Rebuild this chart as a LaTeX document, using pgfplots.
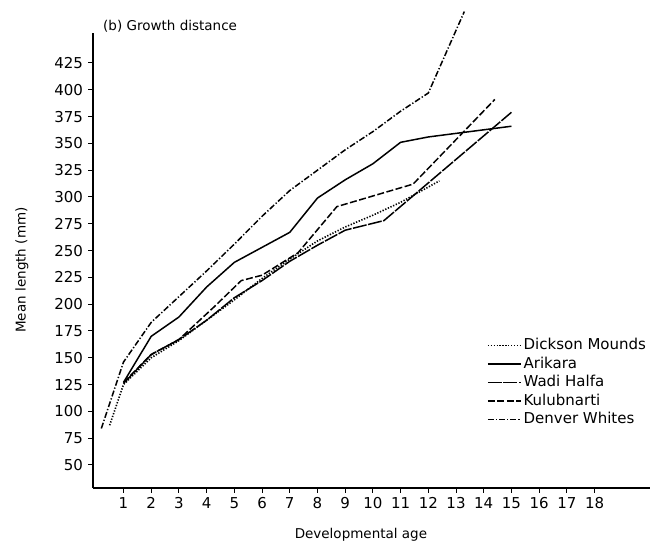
\documentclass[border=0pt]{standalone}
\usepackage{pgfplots}
\pgfplotsset{compat=1.18}
\usepackage{fontspec}
\setmainfont{DejaVu Sans}
\begin{document}
\begin{tikzpicture}[x=1bp,y=1bp]
\path[use as bounding box] (0,0) rectangle (653,550);
\begin{axis}[
  at={(93bp,62bp)}, anchor=south west,
  scale only axis, width=557bp, height=455bp,
  xmin=-0.1, xmax=20, ymin=28.5, ymax=453,
  clip=false,
  axis lines=left,
  axis line style={-, line width=1.6bp, black},
  tick align=outside,
  major tick length=5bp,
  tick style={line width=1bp, black},
  xtick={1,2,...,18},
  ytick={50,75,...,425},
  /pgf/number format/assume math mode=true,
  /pgf/number format/1000 sep={},
  tick label style={font=\fontsize{15bp}{17bp}\selectfont},
  xticklabel style={yshift=-1bp},
  yticklabel style={xshift=-1.5bp},
  xlabel={Developmental age},
  ylabel={Mean length (mm)},
  label style={font=\fontsize{13.5bp}{15bp}\selectfont},
  xlabel style={at={(axis description cs:0.481,-0.103)}, anchor=center},
  ylabel style={at={(axis description cs:-0.1275,0.479)}, anchor=center},
  legend image code/.code={\draw[#1] (0bp,0bp) -- (33bp,0bp);},
  legend cell align=left,
  legend style={at={(axis description cs:0.707,0.332)}, anchor=north west,
    draw=none, fill=none, inner sep=0pt, row sep=1.5bp,
    font=\fontsize{15bp}{17bp}\selectfont,
    nodes={inner sep=2bp, text height=10.5bp, text depth=2.5bp}},
]
\addplot[black, line width=1.6bp, dash pattern=on 1.3bp off 1.6bp] coordinates {
 (0.5,87) (1,125) (2,150) (3,166) (4,185) (5,204) (6,224) (7,242) (8,259) (9,272) (10,283) (11,295) (12.4,315)};
\addlegendentry{Dickson Mounds}
\addplot[black, line width=1.5bp] coordinates {
 (1,127) (2,170) (3,188) (4,216) (5,239) (7,267) (8,299) (9,316) (10,331) (11,351) (12,356) (15,366)};
\addlegendentry{Arikara}
\addplot[black, line width=1.5bp, dash pattern=on 14bp off 1.5bp] coordinates {
 (1,126) (2,153) (3,167) (4,185) (5,206) (6,222) (7,240) (8,255) (9,269) (10.4,278) (15,379)};
\addlegendentry{Wadi Halfa}
\addplot[black, line width=1.5bp, dash pattern=on 7bp off 2.5bp] coordinates {
 (1,127) (2,153) (3,167) (4.25,197) (5.25,222) (6,227) (7.3,248) (8.7,291) (11.45,312) (14.4,391)};
\addlegendentry{Kulubnarti}
\addplot[black, line width=1.5bp, dash pattern=on 6bp off 2bp on 1.3bp off 2bp] coordinates {
 (0.2,84) (1,146) (2,183) (3,207) (4,231) (5,256) (6,282) (7,306) (8,325) (9,344) (10,361) (11,380) (12,397) (13.3,473)};
\addlegendentry{Denver Whites}
\node[anchor=base west, font=\fontsize{13.5bp}{15bp}\selectfont, inner sep=0pt]
  at (axis description cs:0.018,1.0044) {(b) Growth distance};
\end{axis}
\end{tikzpicture}
\end{document}
